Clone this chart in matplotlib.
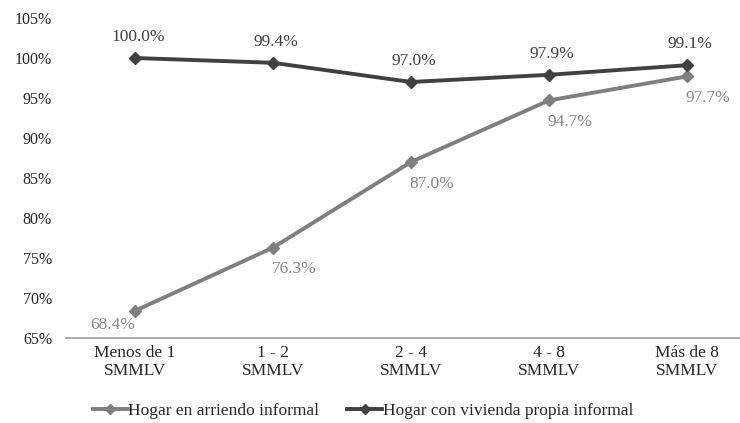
import matplotlib
matplotlib.use("Agg")
import matplotlib.pyplot as plt
from matplotlib.lines import Line2D

# Chart data
categories = ["Menos de 1\nSMMLV", "1 - 2\nSMMLV", "2 - 4\nSMMLV", "4 - 8\nSMMLV", "Más de 8\nSMMLV"]
arriendo = [68.4, 76.3, 87.0, 94.7, 97.7]
propia = [100.0, 99.4, 97.0, 97.9, 99.1]
series_names = ["Hogar en arriendo informal", "Hogar con vivienda propia informal"]
y_ticks = [65, 70, 75, 80, 85, 90, 95, 100, 105]

plt.rcParams["font.family"] = ["Liberation Serif", "DejaVu Serif"]

DARK = "#404040"
GREY = "#7f7f7f"

fig = plt.figure(figsize=(7.40, 4.23), dpi=100)
ax = fig.add_axes([66 / 740, 85 / 423, 690 / 740, 320 / 423])

x = list(range(len(categories)))
ax.plot(x, arriendo, color=GREY, lw=2.8, marker="D", ms=6.5, zorder=3)
ax.plot(x, propia, color=DARK, lw=2.8, marker="D", ms=6.5, zorder=4)

# value labels
for i, v in enumerate(propia):
    ax.annotate(f"{v:.1f}%", (i, v), xytext=(2, 15), textcoords="offset points",
                ha="center", va="center", fontsize=12.5, color=DARK)
for i, v in enumerate(arriendo):
    dx = -16 if i == 0 else 15
    dy = -10 if i == 0 else -15.5
    ax.annotate(f"{v:.1f}%", (i, v), xytext=(dx, dy), textcoords="offset points",
                ha="center", va="center", fontsize=12.5, color="#888888")

ax.set_xlim(-0.5, len(categories) - 0.5)
ax.set_ylim(65, 105)
ax.set_yticks(y_ticks)
ax.set_yticklabels([f"{t}%" for t in y_ticks])
ax.set_xticks(x)
ax.set_xticklabels(categories, fontsize=12.5, color="#262626", linespacing=1.15)
ax.tick_params(axis="y", length=0, pad=10, labelsize=11.5, labelcolor="#262626")
ax.tick_params(axis="x", length=0, pad=5)

for side in ("top", "right", "left"):
    ax.spines[side].set_visible(False)
ax.spines["bottom"].set_color("#a6a6a6")
ax.spines["bottom"].set_linewidth(1.3)

handles = [
    Line2D([], [], color=GREY, lw=2.8, marker="D", ms=5),
    Line2D([], [], color=DARK, lw=2.8, marker="D", ms=5),
]
fig.legend(handles, series_names, loc="center", bbox_to_anchor=(363 / 740, 1 - 411 / 423),
           ncol=2, frameon=False, fontsize=12.5, handlelength=2.0, handletextpad=0.05,
           columnspacing=1.6, labelcolor="#262626")

fig.savefig("out.png", dpi=100)
